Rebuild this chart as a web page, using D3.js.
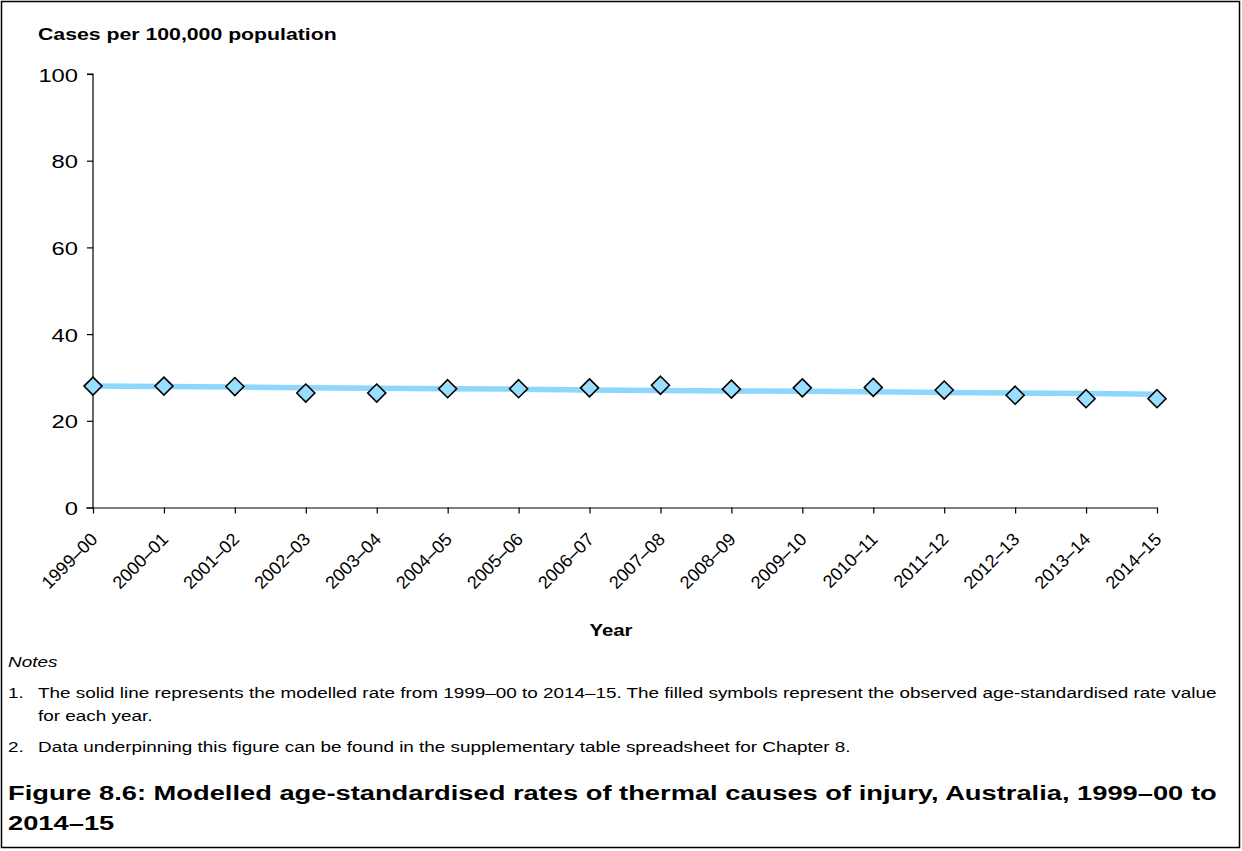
<!DOCTYPE html>
<html>
<head>
<meta charset="utf-8">
<script src="https://cdn.jsdelivr.net/npm/d3@7"></script>
<style>
  html, body { margin: 0; padding: 0; background: #fff; }
  svg { display: block; font-family: "Liberation Sans", Arial, sans-serif; }
</style>
</head>
<body>
<svg id="chart" width="1242" height="851"></svg>
<script>
const years = ["1999–00","2000–01","2001–02","2002–03","2003–04","2004–05","2005–06","2006–07",
               "2007–08","2008–09","2009–10","2010–11","2011–12","2012–13","2013–14","2014–15"];
const observed = [28.0, 28.0, 27.9, 26.4, 26.4, 27.4, 27.4, 27.6, 28.2, 27.3, 27.6, 27.7, 27.1, 25.9, 25.1, 25.1];
const modelled = [28.0, 27.9, 27.8, 27.6, 27.5, 27.4, 27.3, 27.1, 27.0, 26.9, 26.8, 26.7, 26.5, 26.4, 26.3, 26.1];
const yTicks = [0, 20, 40, 60, 80, 100];

const yTitle = "Cases per 100,000 population";
const xTitle = "Year";
const notesHead = "Notes";
const notes = [
  ["1.", ["The solid line represents the modelled rate from 1999–00 to 2014–15. The filled symbols represent the observed age-standardised rate value", "for each year."]],
  ["2.", ["Data underpinning this figure can be found in the supplementary table spreadsheet for Chapter 8."]]
];
const caption = ["Figure 8.6: Modelled age-standardised rates of thermal causes of injury, Australia, 1999–00 to", "2014–15"];

const svg = d3.select("#chart");

function stretchedText(parent, x, y, txt, size, sx, opts = {}) {
  const t = parent.append("text")
    .attr("transform", `translate(${x},${y}) scale(${sx},1)`)
    .attr("font-size", size).attr("fill", "#000").text(txt);
  if (opts.weight) t.attr("font-weight", opts.weight);
  if (opts.style) t.attr("font-style", opts.style);
  if (opts.anchor) t.attr("text-anchor", opts.anchor);
  return t;
}

// outer border
svg.append("rect").attr("x", 1.5).attr("y", 1.5).attr("width", 1238).attr("height", 846)
  .attr("fill", "none").attr("stroke", "#000").attr("stroke-width", 1.5);

const x = d3.scalePoint().domain(years).range([93, 1157]);
const y = d3.scaleLinear().domain([0, 100]).range([507.5, 74]);

// y axis
const yAxis = svg.append("g").attr("transform", "translate(93,0)")
  .call(d3.axisLeft(y).tickValues(yTicks).tickSize(6).tickPadding(8).tickFormat(d3.format("d")));
yAxis.select(".domain").attr("stroke", "#000").attr("stroke-width", 1.2).attr("d", `M-6,${y(100)}H0V${y(0)}`);
yAxis.selectAll(".tick line").attr("stroke", "#000").attr("stroke-width", 1.2);
yAxis.selectAll(".tick text")
  .attr("font-size", 19).attr("fill", "#000")
  .attr("font-family", "'Liberation Sans', Arial, sans-serif")
  .attr("x", 0).attr("dy", null)
  .attr("transform", "translate(-15,7) scale(1.25,1)");

// x axis
const xAxis = svg.append("g").attr("transform", `translate(0,${y(0)})`)
  .call(d3.axisBottom(x).tickSize(6).tickSizeOuter(0).tickPadding(4));
xAxis.select(".domain").attr("stroke", "#000").attr("stroke-width", 1.2).attr("d", `M86,0.5H${x(years[years.length-1])}`);
xAxis.selectAll(".tick line").attr("stroke", "#000").attr("stroke-width", 1.2);
xAxis.selectAll(".tick text")
  .attr("font-size", 18).attr("fill", "#000")
  .attr("font-family", "'Liberation Sans', Arial, sans-serif")
  .attr("text-anchor", "end")
  .attr("dy", null)
  .attr("transform", "translate(5,33) rotate(-45)")
  .attr("y", 0).attr("x", 0);

// modelled line
const line = d3.line().x((d, i) => x(years[i])).y(d => y(d));
svg.append("path").datum(modelled).attr("d", line)
  .attr("fill", "none").attr("stroke", "#8DD7FB").attr("stroke-width", 5.5);

// observed diamonds
svg.append("g").selectAll("path").data(observed).join("path")
  .attr("transform", (d, i) => `translate(${x(years[i])},${y(d)})`)
  .attr("d", "M0,-9L9,0L0,9L-9,0Z")
  .attr("fill", "#99DDFF").attr("stroke", "#000").attr("stroke-width", 1.6);

// titles
stretchedText(svg, 38, 40, yTitle, 17, 1.25, { weight: "bold" });
stretchedText(svg, 611, 636, xTitle, 17, 1.2, { weight: "bold", anchor: "middle" });

// notes
stretchedText(svg, 8, 667, notesHead, 15, 1.26, { style: "italic" });
const noteY = [698, 752];
notes.forEach((n, k) => {
  stretchedText(svg, 8, noteY[k], n[0], 15, 1.26);
  n[1].forEach((ln, j) => {
    stretchedText(svg, 38, noteY[k] + j * 23, ln, 15, 1.26);
  });
});

// caption
caption.forEach((c, j) => {
  stretchedText(svg, 8, 800 + j * 30, c, 21, 1.3, { weight: "bold" });
});
</script>
</body>
</html>
